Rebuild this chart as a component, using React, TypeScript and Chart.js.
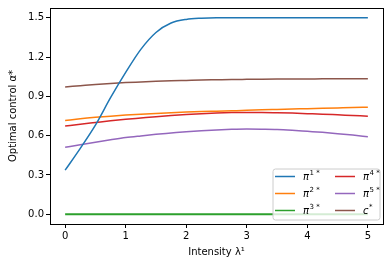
import React, { useEffect, useRef } from 'react';
import { Chart, registerables } from 'chart.js';
Chart.register(...registerables);

const lambdas = [0, 0.25, 0.5, 0.75, 1, 1.25, 1.5, 1.75, 2, 2.25, 2.5, 2.75, 3, 3.25, 3.5, 3.75, 4, 4.25, 4.5, 4.75, 5];
const pi1 = [0.336, 0.503, 0.68, 0.89, 1.083, 1.259, 1.388, 1.46, 1.488, 1.497, 1.5, 1.5, 1.5, 1.5, 1.5, 1.5, 1.5, 1.5, 1.5, 1.5, 1.5];
const pi2 = [0.715, 0.729, 0.74, 0.749, 0.757, 0.764, 0.77, 0.775, 0.78, 0.784, 0.787, 0.79, 0.793, 0.797, 0.8, 0.803, 0.806, 0.809, 0.812, 0.815, 0.817];
const pi3 = [0, 0, 0, 0, 0, 0, 0, 0, 0, 0, 0, 0, 0, 0, 0, 0, 0, 0, 0, 0, 0];
const pi4 = [0.673, 0.687, 0.7, 0.713, 0.725, 0.735, 0.745, 0.754, 0.762, 0.768, 0.773, 0.776, 0.777, 0.777, 0.775, 0.772, 0.768, 0.764, 0.759, 0.754, 0.749];
const pi5 = [0.511, 0.531, 0.55, 0.568, 0.585, 0.598, 0.61, 0.62, 0.63, 0.638, 0.644, 0.648, 0.65, 0.649, 0.647, 0.641, 0.633, 0.625, 0.615, 0.604, 0.592];
const cStar = [0.972, 0.981, 0.99, 0.998, 1.005, 1.01, 1.015, 1.019, 1.022, 1.025, 1.027, 1.029, 1.03, 1.031, 1.032, 1.033, 1.033, 1.034, 1.034, 1.035, 1.035];

const seriesBase = ['π', 'π', 'π', 'π', 'π', 'c'];
const seriesSup = ['1 *', '2 *', '3 *', '4 *', '5 *', '*'];
const seriesColors = ['#1f77b4', '#ff7f0e', '#2ca02c', '#d62728', '#9467bd', '#8c564b'];
const seriesValues = [pi1, pi2, pi3, pi4, pi5, cStar];

const xTicks = [0, 1, 2, 3, 4, 5];
const yTicks = [0, 0.3, 0.6, 0.9, 1.2, 1.5];

const FONT = '"DejaVu Sans", sans-serif';

const framePlugin = {
  id: 'frameAndLegend',
  afterDraw(chart: any) {
    const ctx = chart.ctx;
    const a = chart.chartArea;
    ctx.save();
    ctx.strokeStyle = '#000';
    ctx.lineWidth = 1;
    ctx.strokeRect(Math.round(a.left) + 0.5, Math.round(a.top) + 0.5, Math.round(a.right - a.left), Math.round(a.bottom - a.top));

    // legend in lower right, 2 columns
    const bx = 273, by = 169, bw = 107, bh = 51, r = 2.5;
    ctx.beginPath();
    ctx.moveTo(bx + r, by);
    ctx.lineTo(bx + bw - r, by);
    ctx.quadraticCurveTo(bx + bw, by, bx + bw, by + r);
    ctx.lineTo(bx + bw, by + bh - r);
    ctx.quadraticCurveTo(bx + bw, by + bh, bx + bw - r, by + bh);
    ctx.lineTo(bx + r, by + bh);
    ctx.quadraticCurveTo(bx, by + bh, bx, by + bh - r);
    ctx.lineTo(bx, by + r);
    ctx.quadraticCurveTo(bx, by, bx + r, by);
    ctx.closePath();
    ctx.fillStyle = 'rgba(255,255,255,0.8)';
    ctx.fill();
    ctx.strokeStyle = '#cccccc';
    ctx.lineWidth = 1;
    ctx.stroke();

    const colX = [275, 335];
    const rowY = [176.5, 193.5, 210.5];
    for (let i = 0; i < seriesBase.length; i++) {
      const col = Math.floor(i / 3);
      const row = i % 3;
      const x = colX[col];
      const y = rowY[row];
      ctx.strokeStyle = seriesColors[i];
      ctx.lineWidth = 1.5;
      ctx.beginPath();
      ctx.moveTo(x, y);
      ctx.lineTo(x + 20, y);
      ctx.stroke();
      ctx.fillStyle = '#000';
      ctx.textBaseline = 'middle';
      ctx.textAlign = 'left';
      ctx.font = `italic 10px ${FONT}`;
      ctx.fillText(seriesBase[i], x + 28, y + 1);
      const w = ctx.measureText(seriesBase[i]).width;
      ctx.font = `7px ${FONT}`;
      ctx.fillText(seriesSup[i], x + 28 + w + 0.5, y - 3);
    }
    ctx.restore();
  },
};

export default function App() {
  const ref = useRef<HTMLCanvasElement>(null);
  useEffect(() => {
    document.body.style.margin = '0';
    const datasets = seriesValues.map((vals, i) => ({
      label: seriesBase[i] + seriesSup[i],
      data: vals.map((v, j) => ({ x: lambdas[j], y: v })),
      borderColor: seriesColors[i],
      backgroundColor: seriesColors[i],
      borderWidth: i === 2 ? 2 : 1.5,
      pointRadius: 0,
      fill: false,
      cubicInterpolationMode: 'monotone' as const,
    }));
    const chart = new Chart(ref.current!, {
      type: 'line',
      data: { datasets },
      plugins: [framePlugin],
      options: {
        animation: false,
        responsive: false,
        layout: { padding: { left: 0, right: 9, top: 7, bottom: 0 } },
        plugins: { legend: { display: false }, tooltip: { enabled: false } },
        scales: {
          x: {
            type: 'linear',
            min: -0.25,
            max: 5.25,
            afterBuildTicks: (s: any) => { s.ticks = xTicks.map((v) => ({ value: v })); },
            afterFit: (s: any) => { s.height = 44; },
            grid: { display: true, drawOnChartArea: false, drawTicks: true, tickLength: 4, color: '#000' },
            border: { display: false },
            ticks: { color: '#000', font: { family: FONT, size: 10 }, padding: 2, maxRotation: 0, callback: (v: any) => String(v) },
            title: { display: true, text: 'Intensity λ¹', color: '#000', font: { family: FONT, size: 10 }, padding: { top: 0, bottom: 10 } },
          },
          y: {
            type: 'linear',
            min: -0.075,
            max: 1.575,
            afterBuildTicks: (s: any) => { s.ticks = yTicks.map((v) => ({ value: v })); },
            afterFit: (s: any) => { s.width = 50; },
            grid: { display: true, drawOnChartArea: false, drawTicks: true, tickLength: 4, color: '#000' },
            border: { display: false },
            ticks: { color: '#000', font: { family: FONT, size: 10 }, padding: 2, callback: (v: any) => Number(v).toFixed(1) },
            title: { display: true, text: 'Optimal control α*', color: '#000', font: { family: FONT, size: 10 }, padding: { top: 7, bottom: 0 } },
          },
        },
      },
    });
    return () => chart.destroy();
  }, []);
  return (
    <div style={{ width: 392, height: 268 }}>
      <canvas ref={ref} width={392} height={268} style={{ display: 'block' }} />
    </div>
  );
}
